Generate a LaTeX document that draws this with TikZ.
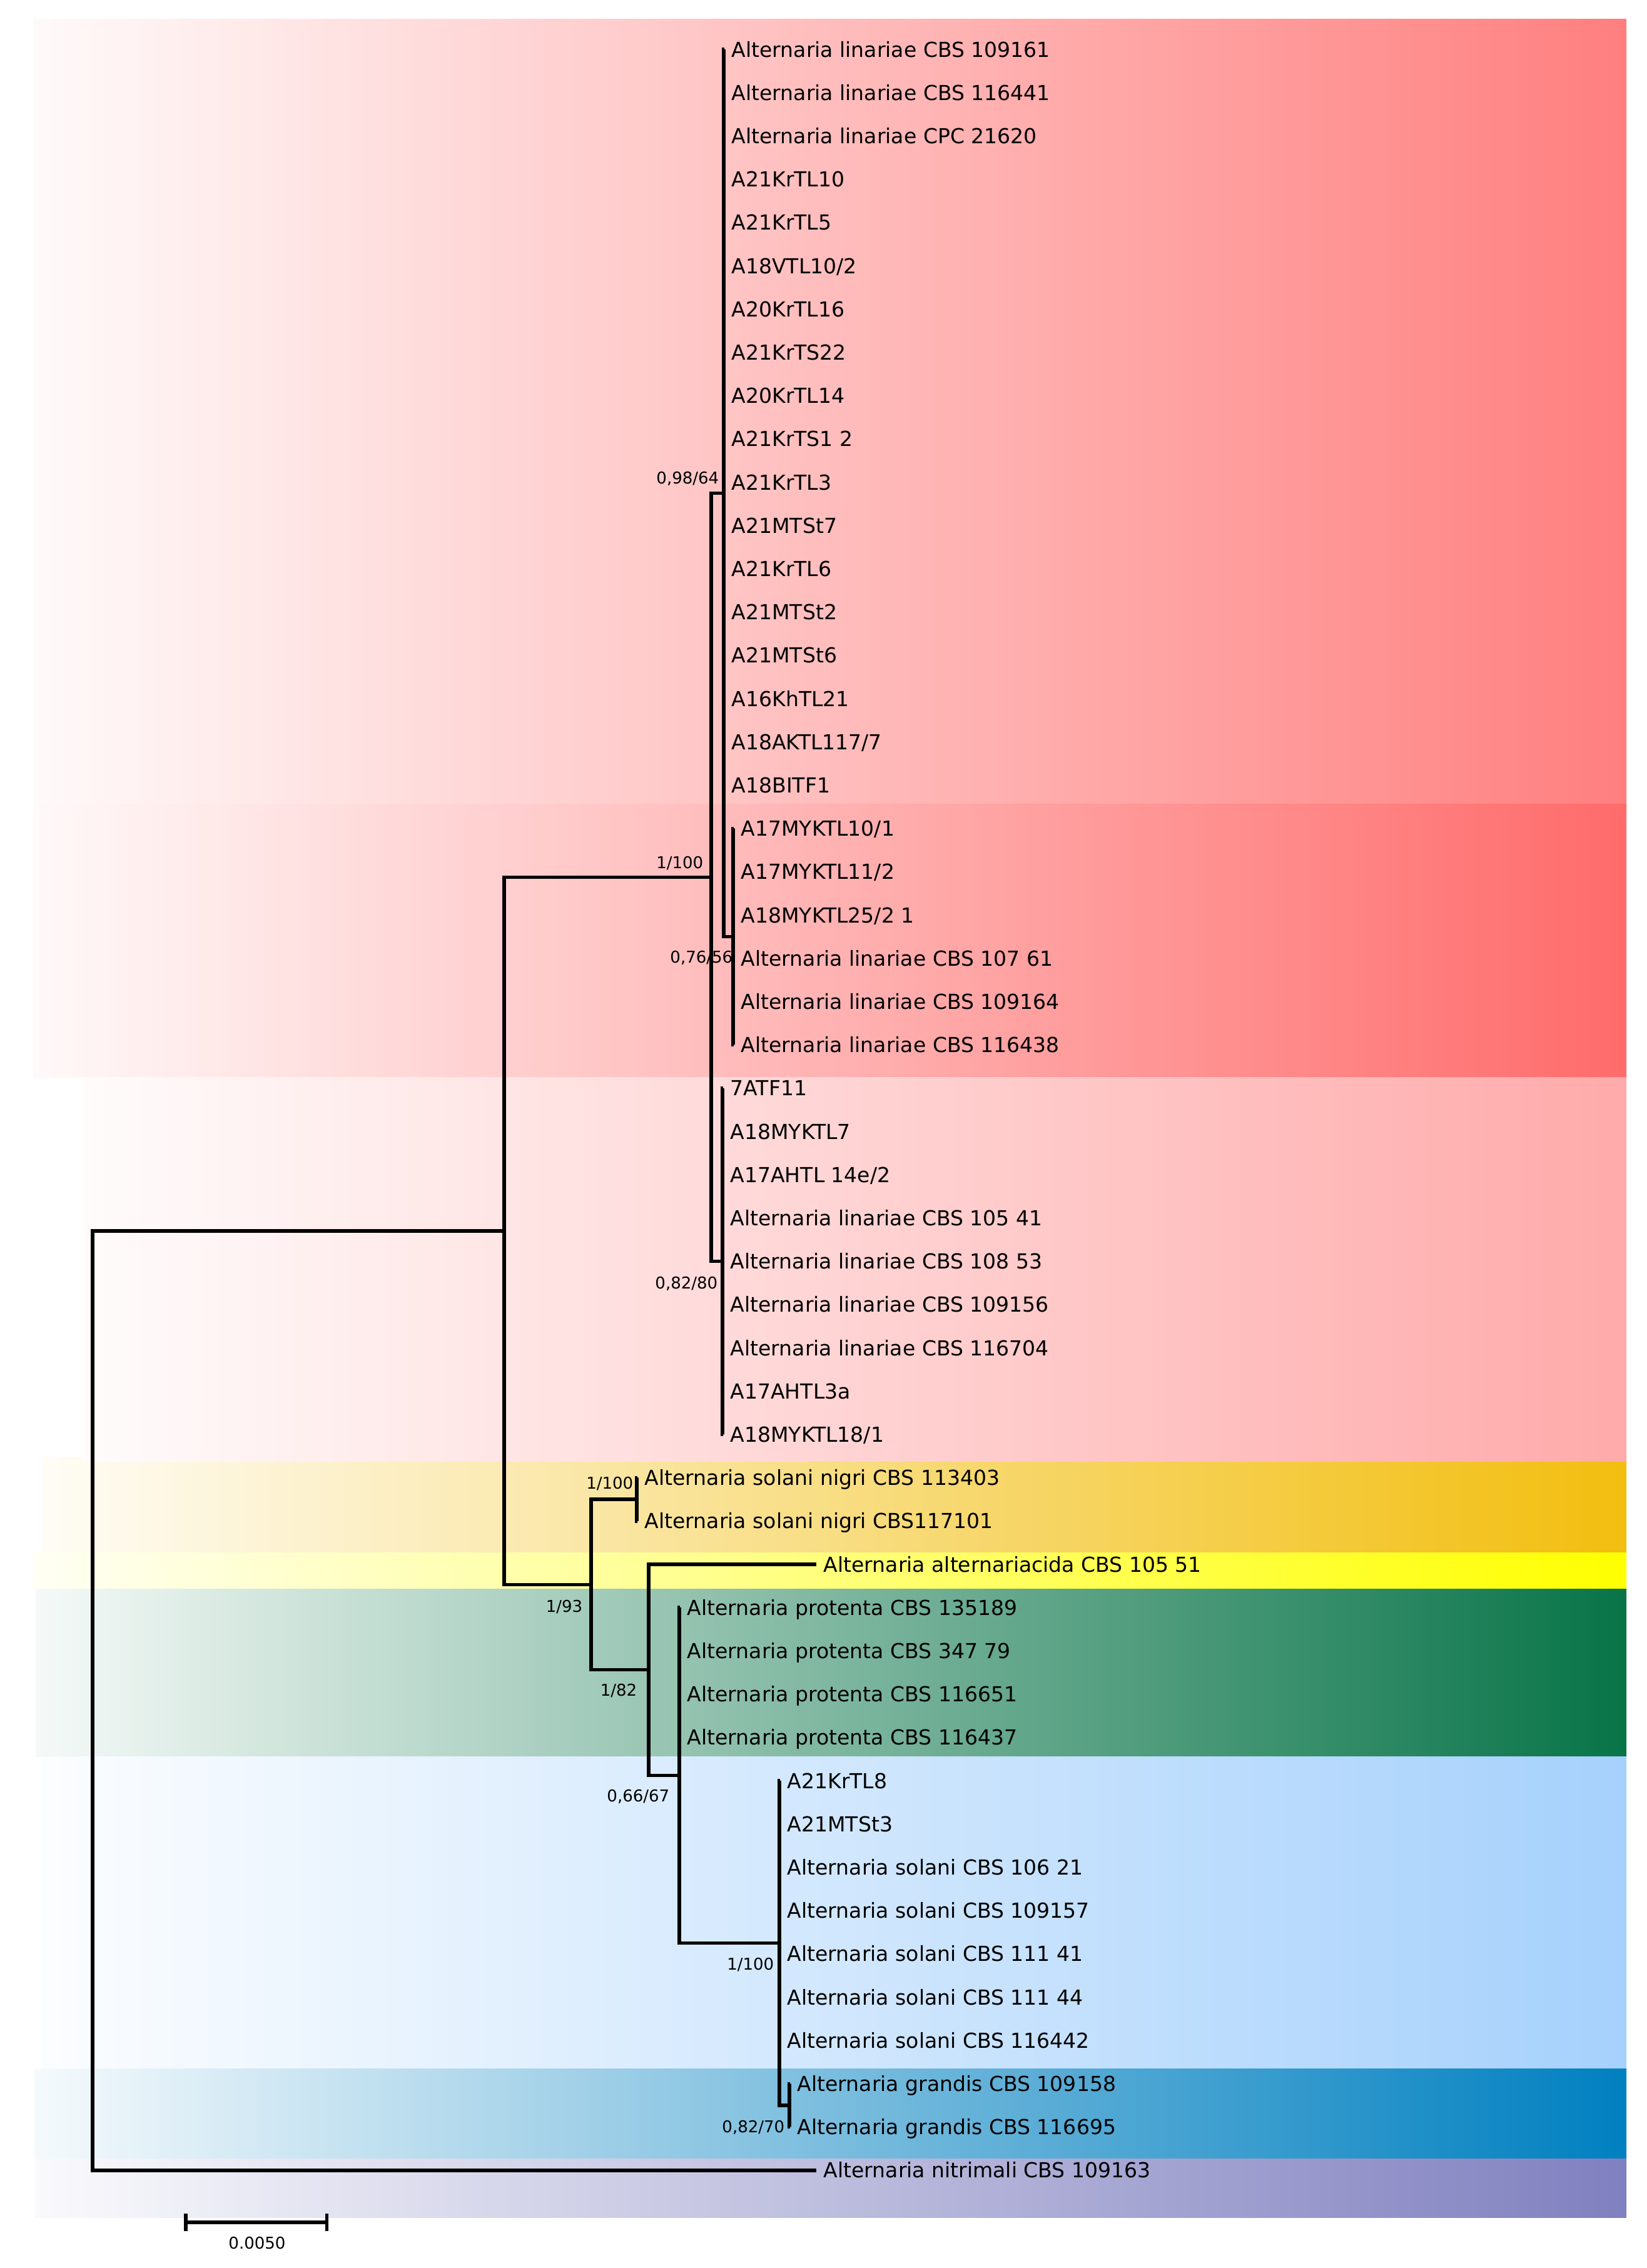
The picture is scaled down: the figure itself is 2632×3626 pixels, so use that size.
\documentclass[tikz,border=0pt]{standalone}
\usepackage{fontspec}
\setmainfont{DejaVu Sans}
\usetikzlibrary{arrows.meta}

\definecolor{linA}{HTML}{FF7F7F}
\definecolor{linB}{HTML}{FF6B6B}
\definecolor{linC}{HTML}{FFAAAA}
\definecolor{nigri}{HTML}{F2BE0F}
\definecolor{acida}{HTML}{FFFF00}
\definecolor{prot}{HTML}{087448}
\definecolor{sol}{HTML}{A6D1FC}
\definecolor{grand}{HTML}{0080C0}
\definecolor{nitri}{HTML}{8080C0}

\tikzset{
  leaf/.style={anchor=west, inner xsep=0.11cm, inner ysep=0pt,
    text height=0.24cm, text depth=0cm, font=\fontsize{9.4}{11}\selectfont},
  supp/.style={anchor=east, inner sep=0pt,
    text height=0.19cm, text depth=0cm, font=\fontsize{7.4}{9}\selectfont},
  branch/.style={line width=0.55mm, line join=miter},
  band/.style={left color=#1!4, right color=#1},
}

\begin{document}
\begin{tikzpicture}[x=0.01cm, y=-0.01cm]
      \useasboundingbox (0,0) rectangle (2632,3626);
      % clade bands
      \shade[band=linA] (53,30) rectangle (2600,1285);
      \shade[band=linB] (53,1285) rectangle (2600,1722);
      \shade[band=nigri] (67,2329) rectangle (2600,2482);
      \shade[band=linC] (133,1722) rectangle (2600,2336);
      \shade[band=acida] (53,2482) rectangle (2600,2540);
      \shade[band=prot] (57,2540) rectangle (2600,2808);
      \shade[band=sol] (67,2808) rectangle (2600,3307);
      \shade[band=grand] (55,3307) rectangle (2600,3451);
      \shade[band=nitri] (55,3451) rectangle (2600,3545);
      % internal nodes
      \coordinate (51) at (1157,788.3);
      \coordinate (52) at (1172,1497.6);
      \coordinate (53) at (1155,2016.6);
      \coordinate (54) at (1137,1402.5);
      \coordinate (55) at (1018,2397.2);
      \coordinate (56) at (1262,3366);
      \coordinate (57) at (1246,3106.5);
      \coordinate (58) at (1086,2838.4);
      \coordinate (59) at (1037,2669.7);
      \coordinate (60) at (945,2533.5);
      \coordinate (61) at (806,1968);
      \coordinate (62) at (148,2718.9);
      % taxa
      \path[leaf]
        (1158,79) node (1){Alternaria linariae CBS 109161}
        (1158,148.2) node (2){Alternaria linariae CBS 116441}
        (1158,217.4) node (3){Alternaria linariae CPC 21620}
        (1158,286.6) node (4){A21KrTL10}
        (1158,355.8) node (5){A21KrTL5}
        (1158,425) node (6){A18VTL10/2}
        (1158,494.2) node (7){A20KrTL16}
        (1158,563.4) node (8){A21KrTS22}
        (1158,632.6) node (9){A20KrTL14}
        (1158,701.8) node (10){A21KrTS1 2}
        (1158,771) node (11){A21KrTL3}
        (1158,840.2) node (12){A21MTSt7}
        (1158,909.4) node (13){A21KrTL6}
        (1158,978.6) node (14){A21MTSt2}
        (1158,1047.8) node (15){A21MTSt6}
        (1158,1117) node (16){A16KhTL21}
        (1158,1186.2) node (17){A18AKTL117/7}
        (1158,1255.4) node (18){A18BITF1}
        (1173,1324.6) node (19){A17MYKTL10/1}
        (1173,1393.8) node (20){A17MYKTL11/2}
        (1173,1463) node (21){A18MYKTL25/2 1}
        (1173,1532.2) node (22){Alternaria linariae CBS 107 61}
        (1173,1601.4) node (23){Alternaria linariae CBS 109164}
        (1173,1670.6) node (24){Alternaria linariae CBS 116438}
        (1156,1739.8) node (25){7ATF11}
        (1156,1809) node (26){A18MYKTL7}
        (1156,1878.2) node (27){A17AHTL 14e/2}
        (1156,1947.4) node (28){Alternaria linariae CBS 105 41}
        (1156,2016.6) node (29){Alternaria linariae CBS 108 53}
        (1156,2085.8) node (30){Alternaria linariae CBS 109156}
        (1156,2155) node (31){Alternaria linariae CBS 116704}
        (1156,2224.2) node (32){A17AHTL3a}
        (1156,2293.4) node (33){A18MYKTL18/1}
        (1019,2362.6) node (34){Alternaria solani nigri CBS 113403}
        (1019,2431.8) node (35){Alternaria solani nigri CBS117101}
        (1305,2501) node (36){Alternaria alternariacida CBS 105 51}
        (1087,2570.2) node (37){Alternaria protenta CBS 135189}
        (1087,2639.4) node (38){Alternaria protenta CBS 347 79}
        (1087,2708.6) node (39){Alternaria protenta CBS 116651}
        (1087,2777.8) node (40){Alternaria protenta CBS 116437}
        (1247,2847) node (41){A21KrTL8}
        (1247,2916.2) node (42){A21MTSt3}
        (1247,2985.4) node (43){Alternaria solani CBS 106 21}
        (1247,3054.6) node (44){Alternaria solani CBS 109157}
        (1247,3123.8) node (45){Alternaria solani CBS 111 41}
        (1247,3193) node (46){Alternaria solani CBS 111 44}
        (1247,3262.2) node (47){Alternaria solani CBS 116442}
        (1263,3331.4) node (48){Alternaria grandis CBS 109158}
        (1263,3400.6) node (49){Alternaria grandis CBS 116695}
        (1305,3469.8) node (50){Alternaria nitrimali CBS 109163};
      % support values
      \path[supp]
        (1150,764) node (s51){0,98/64}
        (1172,1530) node (s52){0,76/56}
        (1148,2051) node (s53){0,82/80}
        (1125,1379) node (s54){1/100}
        (1013,2371) node (s55){1/100}
        (1255,3400) node (s56){0,82/70}
        (1238,3140) node (s57){1/100}
        (1071,2871) node (s58){0,66/67}
        (1019,2702) node (s59){1/82}
        (932,2568) node (s60){1/93};
      \begin{scope}[branch]
        \draw (62) |- (61);
        \draw (62) |- (50.west);
        \draw (61) |- (54);
        \draw (61) |- (60);
        \draw (54) |- (51);
        \draw (54) |- (53);
        \draw (51) |- (52);
        \foreach \t in {1,...,18} \draw (51) |- (\t.west);
        \foreach \t in {19,...,24} \draw (52) |- (\t.west);
        \foreach \t in {25,...,33} \draw (53) |- (\t.west);
        \draw (60) |- (55);
        \draw (60) |- (59);
        \draw (55) |- (34.west);
        \draw (55) |- (35.west);
        \draw (59) |- (36.west);
        \draw (59) |- (58);
        \foreach \t in {37,...,40} \draw (58) |- (\t.west);
        \draw (58) |- (57);
        \foreach \t in {41,...,47} \draw (57) |- (\t.west);
        \draw (57) |- (56);
        \draw (56) |- (48.west);
        \draw (56) |- (49.west);
      \end{scope}
      % scale bar
      \coordinate (sb1) at (294,3553);
      \coordinate (sb2) at (525,3553);
      \draw[branch, {Bar[width=0.28cm]}-{Bar[width=0.28cm]}] (sb1) -- (sb2);
      \node[supp, anchor=center] (sbl) at (411,3586) {0.0050};
    \end{tikzpicture}
\end{document}
